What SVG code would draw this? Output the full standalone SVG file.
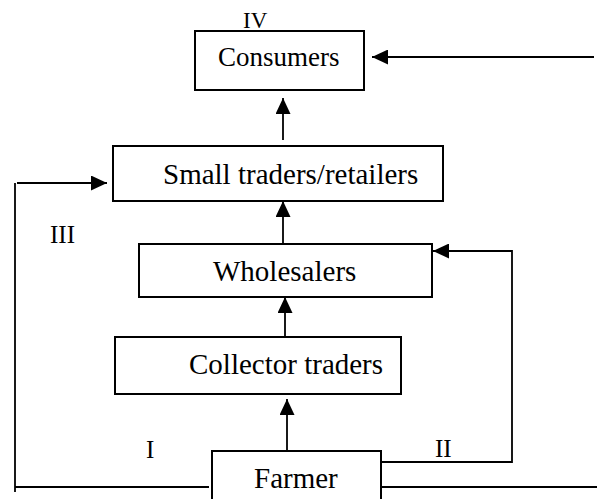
<svg xmlns="http://www.w3.org/2000/svg" width="597" height="499" viewBox="0 0 597 499">
<style>
.box{fill:#fff;stroke:#000;stroke-width:2}
.lbl{font-family:'Liberation Serif','DejaVu Serif',serif;font-size:29px;fill:#000}
.num{font-family:'Liberation Serif','DejaVu Serif',serif;font-size:25px;fill:#000}
.ln{fill:none;stroke:#000;stroke-width:1.8}
.arr{marker-end:url(#ah)}
</style>
<defs>
<marker id="ah" markerUnits="userSpaceOnUse" markerWidth="16" markerHeight="15" refX="16" refY="7.5" orient="auto" viewBox="0 0 16 15">
<path d="M0,0 L16,7.5 L0,15 z" fill="#000"/>
</marker>
</defs>
<rect width="597" height="499" fill="#fff"/>
<g id="connectors">
<path class="ln arr" d="M283,140 L283,98"/>
<path class="ln arr" d="M283,244 L283,201"/>
<path class="ln arr" d="M285,337 L285,297"/>
<path class="ln arr" d="M287,451 L287,399"/>
<path class="ln arr" d="M594,57 L372,57"/>
<path class="ln" d="M15,183 L15,492"/>
<path class="ln arr" d="M17,183 L107,183"/>
<path class="ln" d="M15,487 L209,487"/>
<path class="ln arr" d="M381,462 L512,462 L512,251 L433,251"/>
<path class="ln" d="M381,487 L597,487"/>
</g>
<g font-family="Liberation Serif, DejaVu Serif, serif">
<g id="consumers">
<rect class="box" x="195" y="31" width="169" height="59"/>
<text class="lbl" x="218" y="66" font-family="Liberation Serif, serif" style="font-size:27px">Consumers</text>
</g>
<g id="small-traders">
<rect class="box" x="113" y="146" width="330" height="55"/>
<text class="lbl" x="163" y="184" font-family="Liberation Serif, serif">Small traders/retailers</text>
</g>
<g id="wholesalers">
<rect class="box" x="139" y="244" width="293" height="53"/>
<text class="lbl" x="213" y="281" font-family="Liberation Serif, serif">Wholesalers</text>
</g>
<g id="collector-traders">
<rect class="box" x="115" y="337" width="286" height="57"/>
<text class="lbl" x="189" y="374" font-family="Liberation Serif, serif">Collector traders</text>
</g>
<g id="farmer">
<rect class="box" x="212" y="451" width="169" height="60"/>
<text class="lbl" x="254" y="488" font-family="Liberation Serif, serif">Farmer</text>
</g>
<g id="labels">
<text class="num" x="243" y="28" font-family="Liberation Serif, serif" style="font-size:23px">IV</text>
<text class="num" x="50" y="243" font-family="Liberation Serif, serif">III</text>
<text class="num" x="146" y="458" font-family="Liberation Serif, serif">I</text>
<text class="num" x="435" y="457" font-family="Liberation Serif, serif">II</text>
</g>
</g>
</svg>
